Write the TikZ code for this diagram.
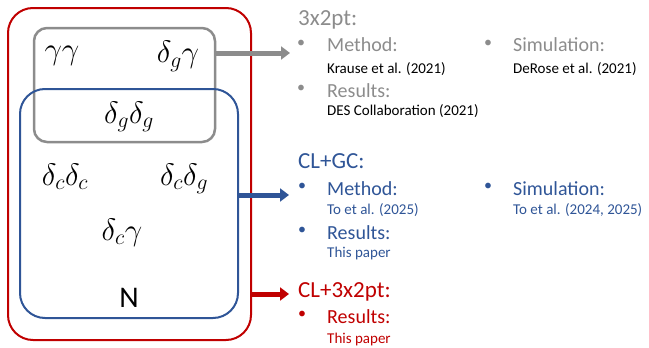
\RequirePackage{fix-cm}
\documentclass[tikz,border=0pt]{standalone}
\usepackage{fontspec}
\setmainfont{Carlito}
\usetikzlibrary{arrows.meta}

\definecolor{boxred}{HTML}{C00000}
\definecolor{boxblue}{HTML}{2F5597}
\definecolor{boxgray}{HTML}{8C8C8C}
\definecolor{txtgray}{HTML}{8C8C8C}

\begin{document}
\begin{tikzpicture}[x=1pt, y=-1pt,
  frame/.style={draw, line width=2pt, rounded corners=#1, inner sep=0pt},
  pair/.style={font=\fontsize{31}{35}\selectfont, anchor=base, inner sep=0pt},
  head/.style={font=\fontsize{23}{27}\selectfont, anchor=base west, inner sep=0pt},
  item/.style={font=\fontsize{20}{24}\selectfont, anchor=base west, inner sep=0pt},
  cite/.style={font=\fontsize{15}{18}\selectfont, anchor=base west, inner sep=0pt},
  dot/.style={font=\fontsize{16}{18}\selectfont, inner sep=0pt},
  link/.style={line width=5pt, -{Triangle[length=9pt, width=13pt]}}]

\useasboundingbox (0,0) rectangle (649,348);

% the three sets
\node[frame=25pt, boxred, minimum width=243pt, minimum height=332pt] (redbox) at (129.5,174) {};
\node[frame=13pt, boxgray, line width=2.5pt, minimum width=181pt, minimum height=114pt] (graybox) at (124.5,85) {};
\node[frame=25pt, boxblue, minimum width=218pt, minimum height=229pt] (bluebox) at (129,203.5) {};

% correlations
\node[pair] (gg) at (62,59) {$\gamma\gamma$};
\node[pair] (dgg) at (178,63) {$\delta_g\gamma$};
\node[pair] (dgdg) at (129,123) {$\delta_g\delta_g$};
\node[pair] (dcdc) at (65,185) {$\delta_c\delta_c$};
\node[pair] (dcdg) at (184,185) {$\delta_c\delta_g$};
\node[pair] (dcg) at (122,240) {$\delta_c\gamma$};
\node[pair, font=\fontsize{30}{34}\selectfont] (nc) at (129,307) {N};

% arrows
\coordinate (graytip) at (290,53);
\coordinate (bluetip) at (289,195);
\coordinate (redtip) at (289,294);
\draw[link, boxgray] (graytip -| graybox.east) -- (graytip);
\draw[link, boxblue] (bluetip -| bluebox.east) -- (bluetip);
\draw[link, boxred] (redtip -| redbox.east) -- (redtip);

% 3x2pt
\begin{scope}[txtgray]
\node[head] (h1) at (298,25) {3x2pt:};
\node[dot] (b11) at (301,44) {•};
\node[item] (m1) at (327,52) {Method:};
\node[cite, black] (r11) at (327,73) {Krause et al. (2021)};
\node[dot] (b12) at (301,89) {•};
\node[item] (s1) at (327,97) {Results:};
\node[cite, black] (r12) at (327,115) {DES Collaboration (2021)};
\node[dot] (b13) at (488,44) {•};
\node[item] (sim1) at (513,52) {Simulation:};
\node[cite, black] (r13) at (513,73) {DeRose et al. (2021)};
\end{scope}

% CL+GC
\begin{scope}[boxblue]
\node[head] (h2) at (298,168) {CL+GC:};
\node[dot] (b21) at (302,187) {•};
\node[item] (m2) at (327,195) {Method:};
\node[cite] (r21) at (327,214) {To et al. (2025)};
\node[dot] (b22) at (302,231) {•};
\node[item] (s2) at (327,239) {Results:};
\node[cite] (r22) at (327,257) {This paper};
\node[dot] (b23) at (488,187) {•};
\node[item] (sim2) at (513,195) {Simulation:};
\node[cite] (r23) at (513,214) {To et al. (2024, 2025)};
\end{scope}

% CL+3x2pt
\begin{scope}[boxred]
\node[head] (h3) at (298,297) {CL+3x2pt:};
\node[dot] (b31) at (302,315) {•};
\node[item] (s3) at (327,323) {Results:};
\node[cite] (r31) at (327,343) {This paper};
\end{scope}

\end{tikzpicture}
\end{document}
